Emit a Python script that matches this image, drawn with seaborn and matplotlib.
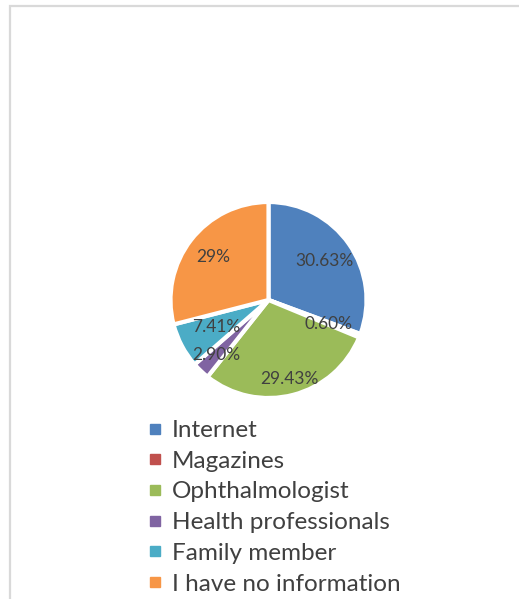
import numpy as np
import matplotlib
matplotlib.use("Agg")
import matplotlib.pyplot as plt
import seaborn as sns
from matplotlib.lines import Line2D
from matplotlib.patches import Rectangle

categories = ["Internet", "Magazines", "Ophthalmologist", "Health professionals",
              "Family member", "I have no information"]
values = [30.63, 0.60, 29.43, 2.90, 7.41, 29.0]
pct_labels = ["30.63%", "0.60%", "29.43%", "2.90%", "7.41%", "29%"]
colors = ["#4F81BD", "#C0504D", "#9BBB59", "#8064A2", "#4BACC6", "#F79646"]
label_radius = [0.69, 0.66, 0.83, 0.77, 0.60, 0.71]

sns.set_theme(style="white")
plt.rcParams["font.family"] = ["Lato", "DejaVu Sans"]
palette = sns.color_palette(colors)

W, H = 519, 599
fig = plt.figure(figsize=(W / 100, H / 100), dpi=100)
fig.patch.set_facecolor("white")

# chart frame (light gray border, left & top visible)
fig.add_artist(Rectangle((9.5 / W, -0.05), 1.2, (H - 5.5) / H + 0.05,
                         transform=fig.transFigure, fill=False,
                         edgecolor="#D9D9D9", linewidth=1.6))

cx, cy, r = 268.5, 300, 98
ax = fig.add_axes([(cx - r) / W, (H - cy - r) / H, 2 * r / W, 2 * r / H])
wedges, _ = ax.pie(values, colors=palette, startangle=90, counterclock=False,
                   wedgeprops=dict(edgecolor="white", linewidth=3))
ax.set_xlim(-1, 1)
ax.set_ylim(-1, 1)
ax.set_aspect("equal")
ax.axis("off")

for w, lab, rf in zip(wedges, pct_labels, label_radius):
    ang = np.deg2rad((w.theta1 + w.theta2) / 2)
    ax.text(rf * np.cos(ang), rf * np.sin(ang), lab, ha="center", va="center",
            fontsize=12.5, color="#404040")

handles = [Line2D([0], [0], marker="s", linestyle="none", markersize=7,
                  markerfacecolor=c, markeredgecolor=c) for c in palette]
fig.legend(handles, categories, loc="upper left",
           bbox_to_anchor=(146 / W, (H - 420) / H), frameon=False,
           fontsize=17.5, labelcolor="#404040", handlelength=0.7,
           handletextpad=0.38, labelspacing=0.4, borderpad=0, borderaxespad=0)

fig.savefig("out.png", dpi=100, facecolor="white")
